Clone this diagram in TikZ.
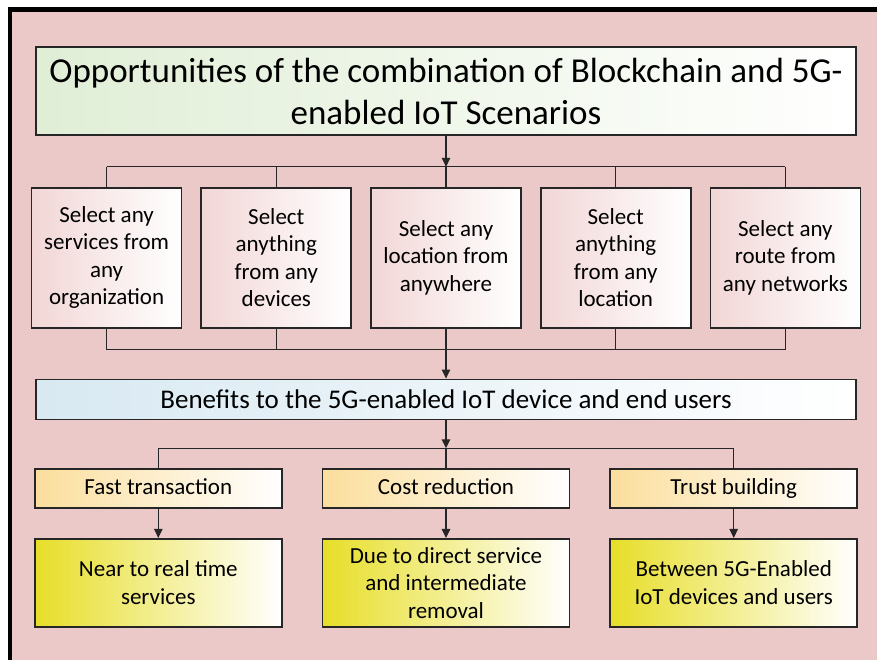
\documentclass[tikz,border=0pt]{standalone}
\usepackage{fontspec}
\setmainfont{Carlito}
\usetikzlibrary{positioning,arrows.meta}

\definecolor{bgpink}{RGB}{236,201,201}
\definecolor{titlegreen}{RGB}{224,238,214}
\definecolor{selpink}{RGB}{242,214,214}
\definecolor{benblue}{RGB}{216,233,242}
\definecolor{headorange}{RGB}{251,222,156}
\definecolor{resyellow}{RGB}{231,222,40}

\begin{document}
\begin{tikzpicture}[
  x=1pt, y=1pt,
  box/.style={rectangle, draw=black!85, line width=1.7pt, align=center, inner sep=2pt,
              left color=#1, right color=white},
  scenbox/.style={box=titlegreen, minimum width=820pt, minimum height=88pt,
                  font=\fontsize{35}{42}\selectfont},
  selbox/.style={box=selpink, minimum width=150pt, minimum height=140pt,
                 font=\fontsize{23}{27.5}\selectfont},
  benbox/.style={box=benblue, minimum width=820pt, minimum height=40pt,
                 font=\fontsize{27}{32}\selectfont},
  headbox/.style={box=headorange, minimum width=247pt, minimum height=39pt,
                  text height=16pt, text depth=5pt, font=\fontsize{23}{27.5}\selectfont},
  resbox/.style={box=resyellow, minimum width=247pt, minimum height=88pt,
                 font=\fontsize{23}{27.5}\selectfont},
  link/.style={draw=black!85, line width=1.1pt},
  arrow/.style={link, -{Triangle[length=9pt, width=8.5pt]}},
]
\useasboundingbox (0,0) rectangle (877,-660);

% ---- background and frame ----
\fill[bgpink] (8,-7) rectangle (877,-660);
\draw[line width=4.5pt] (10,-662) -- (10,-9.5) -- (879,-9.5);

% ---- scenario title ----
\node[scenbox] (scen) at (446,-91)
      {Opportunities of the combination of Blockchain and 5G-\\enabled IoT Scenarios};

% ---- selection boxes ----
\node[selbox] (sel3) [below=51pt of scen] {Select any\\location from\\anywhere};
\node[selbox] (sel2) [left=18pt of sel3]  {Select\\anything\\from any\\devices};
\node[selbox] (sel1) [left=18pt of sel2]  {Select any\\services from\\any\\organization};
\node[selbox] (sel4) [right=18pt of sel3] {Select\\anything\\from any\\location};
\node[selbox] (sel5) [right=18pt of sel4] {Select any\\route from\\any networks};

% ---- benefits bar ----
\node[benbox] (ben) [below=50pt of sel3] {Benefits to the 5G-enabled IoT device and end users};

% ---- benefit heads and results ----
\node[headbox] (cost)  [below=48pt of ben]  {Cost reduction};
\node[headbox] (fast)  [left=39pt of cost]  {Fast transaction};
\node[headbox] (trust) [right=39pt of cost] {Trust building};

\node[resbox] (fastres)  [below=29pt of fast]  {Near to real time\\services};
\node[resbox] (costres)  [below=29pt of cost]  {Due to direct service\\and intermediate\\removal};
\node[resbox] (trustres) [below=29pt of trust] {Between 5G-Enabled\\IoT devices and users};

% ---- fork above and below the selection boxes ----
\coordinate (ftop) at ([yshift=-31pt]scen.south);
\coordinate (fbot) at ([yshift=29pt]ben.north);
\draw[arrow] (scen.south) -- (ftop);
\draw[link] (sel1.north |- ftop) -- (sel5.north |- ftop);
\draw[link] (sel1.south |- fbot) -- (sel5.south |- fbot);
\foreach \s in {sel1,sel2,sel3,sel4,sel5} {
  \draw[link] (\s.north |- ftop) -- (\s.north);
  \draw[link] (\s.south) -- (\s.south |- fbot);
}
\draw[arrow] (sel3.south |- fbot) -- (ben.north);

% ---- fork to the benefit heads ----
\coordinate (hfork) at ([yshift=-28pt]ben.south);
\draw[arrow] (ben.south) -- (hfork);
\draw[link] (fast.north |- hfork) -- (trust.north |- hfork);
\foreach \h in {fast,cost,trust}
  \draw[link] (\h.north |- hfork) -- (\h.north);

% ---- heads to results ----
\draw[arrow] (fast)  -- (fastres);
\draw[arrow] (cost)  -- (costres);
\draw[arrow] (trust) -- (trustres);

\end{tikzpicture}
\end{document}
